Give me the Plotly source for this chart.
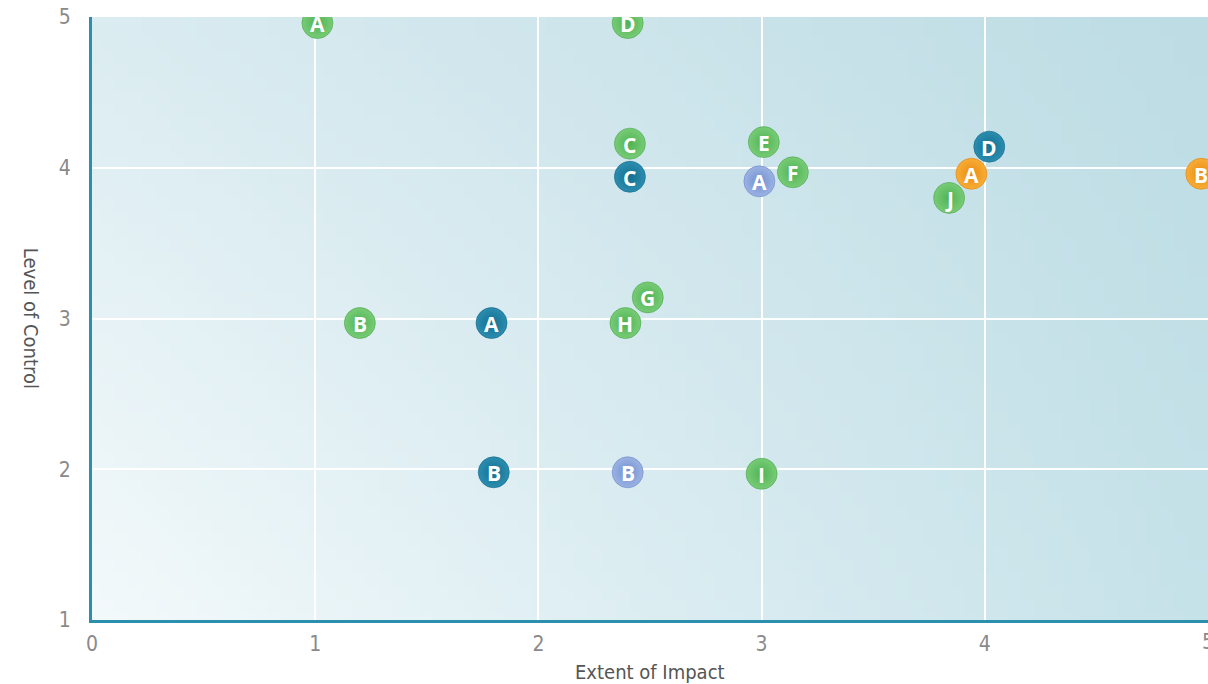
import zlib, struct, base64
import plotly.graph_objects as go

# ---------------- data ----------------
green_labels = ["A", "D", "C", "E", "F", "B", "H", "G", "I", "J"]
green_x = [1.01, 2.40, 2.41, 3.01, 3.14, 1.20, 2.39, 2.49, 3.00, 3.84]
green_y = [4.96, 4.96, 4.16, 4.17, 3.97, 2.97, 2.97, 3.14, 1.97, 3.80]

teal_labels = ["C", "A", "B", "D"]
teal_x = [2.41, 1.79, 1.80, 4.02]
teal_y = [3.94, 2.97, 1.98, 4.14]

purple_labels = ["A", "B"]
purple_x = [2.99, 2.40]
purple_y = [3.91, 1.98]

orange_labels = ["A", "B"]
orange_x = [3.94, 4.97]
orange_y = [3.96, 3.96]

x_ticks = [0, 1, 2, 3, 4, 5]
y_ticks = [1, 2, 3, 4, 5]
x_title = "Extent of Impact"
y_title = "Level of Control"

# ---------------- background gradient image ----------------
def png_uri(w, h, fn):
    rows = []
    for j in range(h):
        row = bytearray([0])
        for i in range(w):
            row.extend(fn(i, j))
        rows.append(bytes(row))
    raw = b"".join(rows)

    def chunk(t, d):
        c = struct.pack(">I", len(d)) + t + d
        return c + struct.pack(">I", zlib.crc32(t + d) & 0xFFFFFFFF)

    png = (b"\x89PNG\r\n\x1a\n"
           + chunk(b"IHDR", struct.pack(">IIBBBBB", w, h, 8, 2, 0, 0, 0))
           + chunk(b"IDAT", zlib.compress(raw, 9))
           + chunk(b"IEND", b""))
    return "data:image/png;base64," + base64.b64encode(png).decode()

TL = (219, 236, 241)
TR = (189, 220, 228)
BL = (243, 249, 251)
BR = (198, 226, 233)

def grad(i, j, w=80, h=45):
    u = i / (w - 1)
    v = j / (h - 1)
    out = []
    for k in range(3):
        top = TL[k] * (1 - u) + TR[k] * u
        bot = BL[k] * (1 - u) + BR[k] * u
        out.append(int(round(top * (1 - v) + bot * v)))
    return out

bg_uri = png_uri(80, 45, grad)

# ---------------- figure ----------------
label_font = dict(family="Open Sans, Lato, sans-serif", size=21, color="white")

groups = [
    (green_x, green_y, green_labels, "#78cc76", "#4fb254", "#48a54d", "green"),
    (teal_x, teal_y, teal_labels, "#2b8db0", "#14708f", "#106784", "teal"),
    (purple_x, purple_y, purple_labels, "#9bb2e3", "#7290d0", "#6a87c6", "purple"),
    (orange_x, orange_y, orange_labels, "#f8ad36", "#ea8b10", "#df820d", "orange"),
]

fig = go.Figure()
annotations = []
for xs, ys, labels, center, edge, line, name in groups:
    fig.add_trace(go.Scatter(
        x=xs, y=ys, name=name, mode="markers",
        marker=dict(size=31, color=center, opacity=1,
                    gradient=dict(type="radial", color=edge),
                    line=dict(width=0.6, color=line)),
        hoverinfo="skip", showlegend=False,
    ))
    for xv, yv, lab in zip(xs, ys, labels):
        annotations.append(dict(
            x=xv, y=yv, xref="x", yref="y", text="<b>" + lab + "</b>",
            showarrow=False, xanchor="center", yanchor="middle",
            font=label_font, yshift=-1,
        ))

fam = "Liberation Sans Narrow, DejaVu Sans Condensed, Roboto Condensed, Arial Narrow, sans-serif"
axis_font = dict(family=fam, size=21, color="#8a8a8a")
title_font = dict(family=fam, size=20, color="#555555")

# last x tick label sits on the clipped right edge (plotly would drop it)
annotations.append(dict(text=str(x_ticks[-1]), xref="x", yref="paper", x=x_ticks[-1], y=0,
                        xanchor="center", yanchor="middle", yshift=-22,
                        showarrow=False, font=axis_font))

annotations += [
    dict(text=x_title, xref="paper", yref="paper", x=0.5, y=-0.086,
         xanchor="center", yanchor="middle", showarrow=False, font=title_font),
    dict(text=y_title, xref="paper", yref="paper", x=-0.054, y=0.5,
         xanchor="center", yanchor="middle", showarrow=False, textangle=90,
         font=title_font),
]

fig.update_layout(
    width=1208, height=684, autosize=False,
    margin=dict(l=92, r=0, t=17, b=64, pad=0),
    paper_bgcolor="white",
    plot_bgcolor="#d4e9ee",
    xaxis=dict(range=[0, 5], tickvals=x_ticks[:-1], ticktext=[str(v) for v in x_ticks[:-1]],
               showgrid=True, gridcolor="white", gridwidth=2,
               zeroline=False, showline=True, linecolor="#2b8fad", linewidth=3,
               ticks="outside", ticklen=3, tickcolor="rgba(0,0,0,0)",
               tickfont=axis_font, fixedrange=True),
    yaxis=dict(range=[1, 5], tickvals=y_ticks, ticktext=[str(v) for v in y_ticks],
               showgrid=True, gridcolor="white", gridwidth=2,
               zeroline=False, showline=True, linecolor="#2b8fad", linewidth=3,
               ticks="outside", ticklen=14, tickcolor="rgba(0,0,0,0)",
               tickfont=axis_font, fixedrange=True),
    images=[dict(source=bg_uri, xref="paper", yref="paper", x=0, y=1,
                 sizex=1, sizey=1, xanchor="left", yanchor="top",
                 sizing="stretch", layer="below")],
    annotations=annotations,
)

fig.write_html("out.html")
